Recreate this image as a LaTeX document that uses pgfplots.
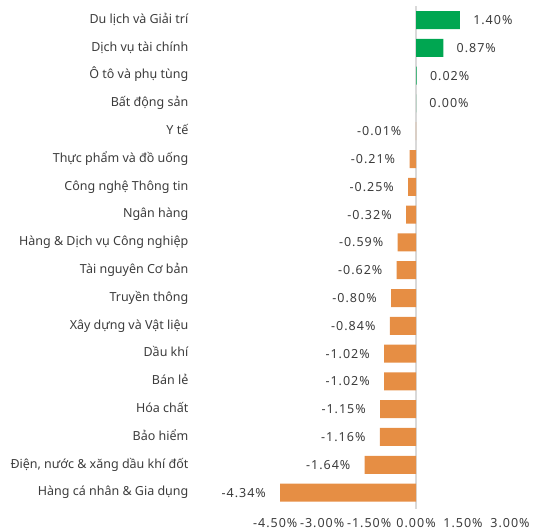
\documentclass[border=0pt]{standalone}
\usepackage{pgfplots}
\pgfplotsset{compat=1.18}
\usepackage{fontspec}
\setmainfont{Noto Sans}
\newfontfamily\numfont[LetterSpace=8]{Noto Sans}
\definecolor{gr}{RGB}{0,166,81}
\definecolor{og}{RGB}{230,142,68}
\definecolor{txt}{RGB}{60,60,60}
\begin{document}
\fontsize{12.5}{14}\selectfont
\begin{tikzpicture}
\begin{axis}[
  x=31.3pt, y=27.8pt, y dir=reverse,
  xmin=-7, xmax=3.8, ymin=-0.72, ymax=17.68,
  xbar, bar width=18pt, bar shift=0pt,
  axis line style={draw=none}, major tick style={draw=none},
  ytick={0,...,17},
  yticklabels={Du lịch và Giải trí, Dịch vụ tài chính, Ô tô và phụ tùng, Bất động sản, Y tế, Thực phẩm và đồ uống, Công nghệ Thông tin, Ngân hàng, Hàng \& Dịch vụ Công nghiệp, Tài nguyên Cơ bản, Truyền thông, Xây dựng và Vật liệu, Dầu khí, Bán lẻ, Hóa chất, Bảo hiểm, {Điện, nước \& xăng dầu khí đốt}, Hàng cá nhân \& Gia dụng},
  yticklabel style={text height=9pt, text depth=2.5pt, inner ysep=2pt},
  xtick={-4.5,-3,-1.5,0,1.5,3},
  xticklabel={\numfont\pgfmathprintnumber[fixed,fixed zerofill,precision=2]{\tick}\%},
  /pgf/number format/assume math mode=true,
  tick label style={font=\fontsize{12.5}{14}\selectfont, text=txt},
  xticklabel style={inner ysep=0pt, yshift=-6.5pt},
  point meta=x,
  nodes near coords={\numfont\pgfmathprintnumber[fixed,fixed zerofill,precision=2,assume math mode=true]{\pgfplotspointmeta}\%},
  nodes near coords style={font=\fontsize{12.5}{14}\selectfont, text=txt},
  clip=false,
]
\draw[black!15, line width=1.8pt] (axis cs:0,-0.5) -- (axis cs:0,17.6);
\addplot[draw=none, fill=gr, nodes near coords style={anchor=west, xshift=9pt}] coordinates {
(1.40,0) (0.87,1) (0.02,2) (0.00,3)
};
\addplot[draw=none, fill=og, nodes near coords style={anchor=east, xshift=-10pt}] coordinates {
(-0.01,4) (-0.21,5) (-0.25,6) (-0.32,7) (-0.59,8) (-0.62,9) (-0.80,10) (-0.84,11)
(-1.02,12) (-1.02,13) (-1.15,14) (-1.16,15) (-1.64,16) (-4.34,17)
};
\end{axis}
\pgfresetboundingbox
\path[use as bounding box] (current axis.south west) ++(-197pt,-19.5pt) rectangle (current axis.north east);
\end{tikzpicture}
\end{document}
